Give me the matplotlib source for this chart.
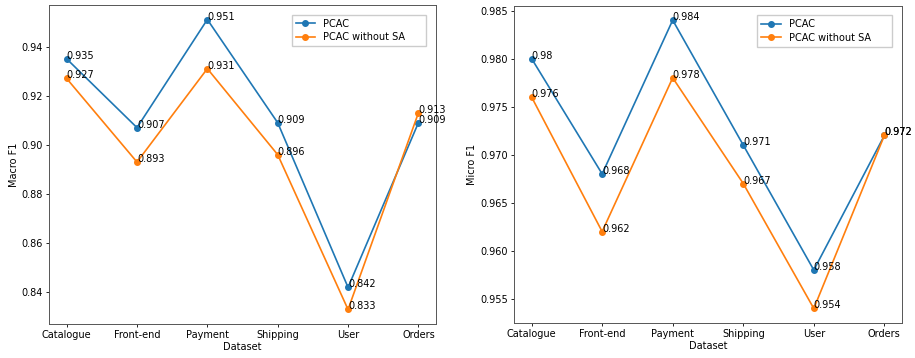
import matplotlib
matplotlib.use("Agg")
import matplotlib.pyplot as plt

datasets = ["Catalogue", "Front-end", "Payment", "Shipping", "User", "Orders"]
macro_pcac = [0.935, 0.907, 0.951, 0.909, 0.842, 0.909]
macro_nosa = [0.927, 0.893, 0.931, 0.896, 0.833, 0.913]
micro_pcac = [0.98, 0.968, 0.984, 0.971, 0.958, 0.972]
micro_nosa = [0.976, 0.962, 0.978, 0.967, 0.954, 0.972]

fs = 7
fig = plt.figure(figsize=(9.15, 3.58), dpi=100)
ax1 = fig.add_axes([0.0536, 0.095, 0.4229, 0.891])
ax2 = fig.add_axes([0.5617, 0.098, 0.4241, 0.886])

def draw(ax, a, b, ylabel):
    x = list(range(len(datasets)))
    ax.plot(x, a, marker="o", color="#1f77b4", lw=1.2, ms=4, label="PCAC")
    ax.plot(x, b, marker="o", color="#ff7f0e", lw=1.2, ms=4, label="PCAC without SA")
    for xi, v in zip(x, a):
        ax.text(xi, v, str(v), fontsize=fs)
    for xi, v in zip(x, b):
        ax.text(xi, v, str(v), fontsize=fs)
    ax.set_xticks(x)
    ax.set_xticklabels(datasets, fontsize=fs)
    ax.tick_params(axis="y", labelsize=fs)
    ax.tick_params(length=2.5, width=0.6, pad=2)
    ax.set_xlabel("Dataset", fontsize=fs, labelpad=1)
    ax.set_ylabel(ylabel, fontsize=fs, labelpad=2)
    for s in ax.spines.values():
        s.set_linewidth(0.7)
        s.set_edgecolor("#555555")
    ax.legend(loc="upper left", bbox_to_anchor=(0.615, 0.985, 0.372, 0.0),
              mode="expand", fontsize=fs, fancybox=False, framealpha=1,
              edgecolor="#cccccc", borderpad=0.4, handlelength=2.0,
              labelspacing=0.35)

draw(ax1, macro_pcac, macro_nosa, "Macro F1")
draw(ax2, micro_pcac, micro_nosa, "Micro F1")

fig.savefig("out.png", dpi=100)
